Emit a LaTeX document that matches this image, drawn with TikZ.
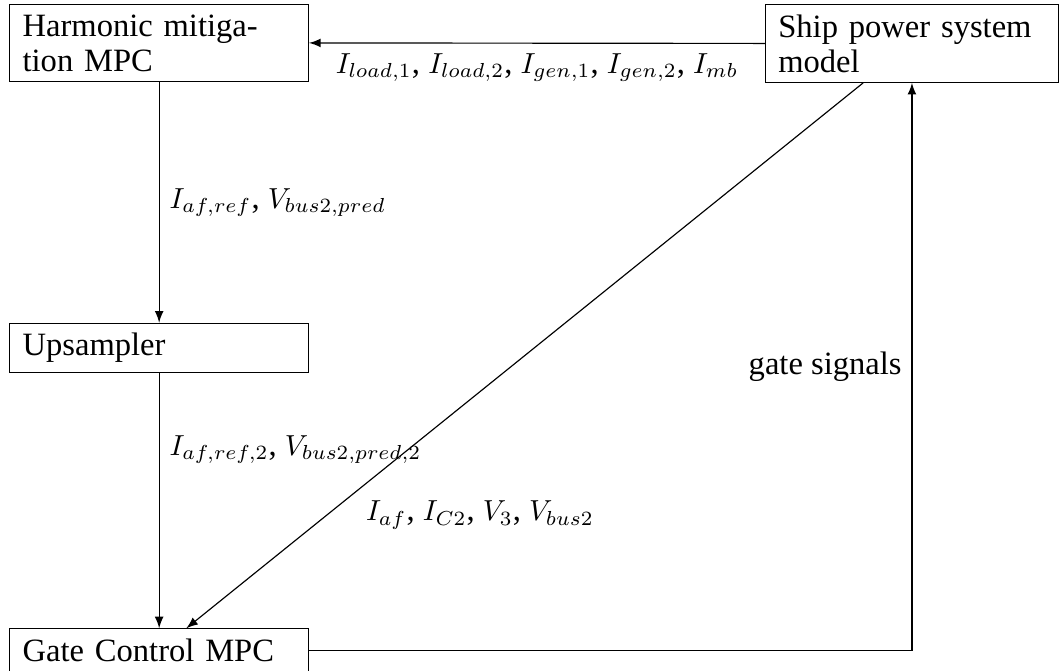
\documentclass[tikz,border=0pt]{standalone}
\usepackage{fontspec}
\setmainfont{Liberation Serif}[Scale=1.08]
\usetikzlibrary{arrows}
\begin{document}
\fontsize{10.4pt}{12.1pt}\selectfont
\begin{tikzpicture}[x=0.345pt, y=-0.345pt, >=latex,
  block/.style={draw, align=left, inner xsep=4.4pt, inner ysep=3.4pt,
    anchor=north west, text width=#1},
  lbl/.style={inner sep=3.4pt}]
\useasboundingbox (0,0) rectangle (1059,670);

% blocks
\node[block=94.2pt] (hm)   at (9.3,4)     {Harmonic mitiga-\\tion MPC};
\node[block=94.2pt] (up)   at (9.3,322.7) {Upsampler};
\node[block=94.2pt] (gc)   at (9.3,628.3) {Gate Control MPC};
\node[block=92.2pt] (ship) at (765,4)     {Ship power system\\model};

% signal flow
\draw[->] (ship.west) -- node[lbl, below]
  {$I_{load,1}$, $I_{load,2}$, $I_{gen,1}$, $I_{gen,2}$, $I_{mb}$} (hm.east);
\draw[->] (hm) -- node[lbl, right] {$I_{af,ref}$, $V_{bus2,pred}$} (up);
\draw[->] (up) -- node[lbl, right, pos=0.3] {$I_{af,ref,2}$, $V_{bus2,pred,2}$} (gc);
\draw[->] (ship) -- (gc);
\node[lbl] (meas) at (480,515) {$I_{af}$, $I_{C2}$, $V_3$, $V_{bus2}$};
\draw[->] (gc) -| node[lbl, left, pos=0.75] {gate signals} (ship);
\end{tikzpicture}
\end{document}
